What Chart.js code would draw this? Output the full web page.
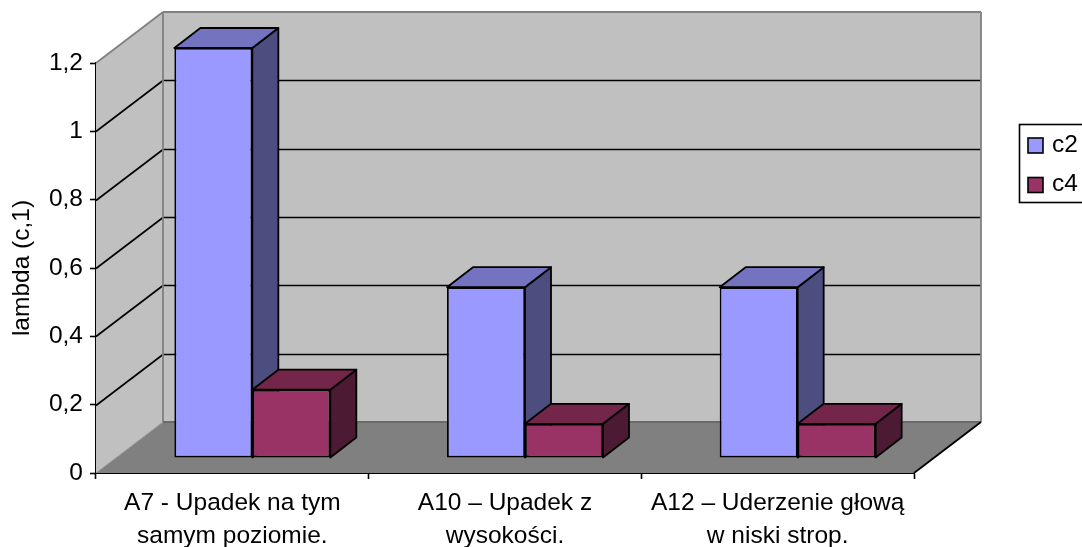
<!DOCTYPE html>
<html>
<head>
<meta charset="utf-8">
<style>html,body{margin:0;padding:0;background:#fff;overflow:hidden}canvas{display:block}</style>
<script src="https://cdn.jsdelivr.net/npm/chart.js@4/dist/chart.umd.min.js"></script>
</head>
<body>
<canvas id="c" width="1082" height="547"></canvas>
<script>
const categories = [
  ['A7 - Upadek na tym', 'samym poziomie.'],
  ['A10 – Upadek z', 'wysokości.'],
  ['A12 – Uderzenie głową', 'w niski strop.']
];
const c2Values = [1.2, 0.5, 0.5];
const c4Values = [0.2, 0.1, 0.1];
const seriesNames = ['c2', 'c4'];
const yTitle = 'lambda (c,1)';

const FONT = '"Liberation Sans", Arial, sans-serif';
const FS = 24.5;
const WALL = {dx: 67, dy: -51};
const SHIFT = {dx: 20, dy: -15};
const DEPTH = {dx: 26, dy: -20};
const EDGE = 1.8;
const faces = [
  {side: '#4D4D80', top: '#7373BF'},
  {side: '#4D1A33', top: '#732649'}
];

function poly(ctx, pts, fill, stroke, lw) {
  ctx.beginPath();
  pts.forEach((p, i) => i ? ctx.lineTo(p[0], p[1]) : ctx.moveTo(p[0], p[1]));
  ctx.closePath();
  if (fill) { ctx.fillStyle = fill; ctx.fill(); }
  if (stroke) { ctx.strokeStyle = stroke; ctx.lineWidth = lw; ctx.lineJoin = 'round'; ctx.stroke(); }
}
function line(ctx, x1, y1, x2, y2, color, lw) {
  ctx.beginPath(); ctx.moveTo(x1, y1); ctx.lineTo(x2, y2);
  ctx.strokeStyle = color; ctx.lineWidth = lw; ctx.stroke();
}

const box3d = {
  id: 'box3d',
  beforeLayout(chart) {
    const lg = chart.legend;
    if (lg && !lg._wrapped) {
      const fit = lg.fit;
      lg.fit = function () { fit.call(this); this.width = 168; };
      lg._wrapped = true;
    }
  },
  afterLayout(chart) {
    const lg = chart.legend;
    lg.left = 1012.5; lg.right = 1095; lg.top = 118.5; lg.bottom = 215;
  },
  beforeDraw(chart) {
    const ctx = chart.ctx;
    ctx.save();
    ctx.strokeStyle = '#000'; ctx.lineWidth = 1.6;
    ctx.strokeRect(1019.5, 124.5, 70, 78);
    chart.data.datasets.forEach((ds, i) => {
      ctx.fillStyle = ds.backgroundColor;
      ctx.fillRect(1028, 138 + 39.5 * i, 15, 15);
      ctx.strokeRect(1028, 138 + 39.5 * i, 15, 15);
    });
    ctx.restore();
  },
  beforeDatasetsDraw(chart) {
    const ctx = chart.ctx, a = chart.chartArea, y = chart.scales.y;
    const d = WALL, L = a.left, R = a.right, T = a.top, B = a.bottom;
    ctx.save();
    poly(ctx, [[L + d.dx, T + d.dy], [R + d.dx, T + d.dy], [R + d.dx, B + d.dy], [L + d.dx, B + d.dy]], '#C0C0C0');
    poly(ctx, [[L, T], [L + d.dx, T + d.dy], [L + d.dx, B + d.dy], [L, B]], '#C0C0C0');
    poly(ctx, [[L, B], [R, B], [R + d.dx, B + d.dy], [L + d.dx, B + d.dy]], '#808080');
    y.ticks.forEach((t, i) => {
      if (i === 0 || i === y.ticks.length - 1) return;
      const p = Math.round(y.getPixelForValue(t.value)) + 0.5;
      line(ctx, L, p, L + d.dx, p + d.dy, '#000', 1.6);
      line(ctx, L + d.dx, p + d.dy, R + d.dx, p + d.dy, '#000', 1.6);
    });
    const GR = '#808080';
    line(ctx, L, T, L + d.dx, T + d.dy, GR, 1.8);
    line(ctx, L + d.dx, T + d.dy, R + d.dx, T + d.dy, GR, 1.8);
    line(ctx, L + d.dx, T + d.dy, L + d.dx, B + d.dy, GR, 1.8);
    line(ctx, R + d.dx, T + d.dy, R + d.dx, B + d.dy, GR, 1.8);
    line(ctx, L + d.dx, B + d.dy, R + d.dx, B + d.dy, '#6a6a6a', 1.8);
    line(ctx, L, B, L + d.dx, B + d.dy, '#999', 1);
    line(ctx, R, B, R + d.dx, B + d.dy, '#000', 1.8);
    ctx.restore();

    // series are painted first to last so that each later bar sits over the earlier bar's side face
    chart.data.datasets.forEach((ds, i) => {
      const meta = chart.getDatasetMeta(i), f = faces[i], dp = DEPTH;
      ctx.save();
      ctx.translate(SHIFT.dx, SHIFT.dy);
      meta.data.forEach(b => {
        const l = b.x - b.width / 2, r = b.x + b.width / 2, t = b.y, bt = b.base;
        poly(ctx, [[r, t], [r + dp.dx, t + dp.dy], [r + dp.dx, bt + dp.dy], [r, bt]], f.side, '#000', EDGE);
        poly(ctx, [[l, t], [r, t], [r + dp.dx, t + dp.dy], [l + dp.dx, t + dp.dy]], f.top, '#000', EDGE);
      });
      meta.controller.draw();
      ctx.restore();
    });
    return false;
  }
};

new Chart(document.getElementById('c'), {
  type: 'bar',
  data: {
    labels: categories,
    datasets: [
      {label: seriesNames[0], data: c2Values, backgroundColor: '#9999FF', borderColor: '#000', borderWidth: EDGE, borderSkipped: false},
      {label: seriesNames[1], data: c4Values, backgroundColor: '#993366', borderColor: '#000', borderWidth: EDGE, borderSkipped: false}
    ]
  },
  options: {
    responsive: false,
    animation: false,
    devicePixelRatio: 1,
    layout: {padding: {top: 63, left: 0, right: 0, bottom: 0}},
    datasets: {bar: {barPercentage: 1, categoryPercentage: 0.572}},
    plugins: {
      tooltip: {enabled: false},
      legend: {
        position: 'right',
        align: 'start',
        labels: {
          boxWidth: 12.75, boxHeight: 16, padding: 14.5, color: '#000',
          font: {family: FONT, size: FS},
          generateLabels: chart => chart.data.datasets.map((ds, i) => ({
            text: ds.label, fillStyle: 'rgba(0,0,0,0)', strokeStyle: 'rgba(0,0,0,0)', lineWidth: 0, datasetIndex: i, fontColor: '#000'
          }))
        }
      }
    },
    scales: {
      x: {
        afterFit: s => { s.height = 74; s.paddingLeft = 0; s.paddingRight = 0; },
        border: {color: '#000', width: 2},
        grid: {drawOnChartArea: false, drawTicks: true, tickLength: 6, color: '#000', tickColor: '#000', tickWidth: 1.6, offset: true},
        ticks: {color: '#000', maxRotation: 0, autoSkip: false, padding: 8, font: {family: FONT, size: FS, lineHeight: 1.347}}
      },
      y: {
        min: 0, max: 1.2,
        afterFit: s => { s.width = 96; s.paddingTop = 0; s.paddingBottom = 0; },
        border: {color: '#000', width: 1.6},
        grid: {drawOnChartArea: false, drawTicks: true, tickLength: 6, tickColor: '#000', tickWidth: 1.6},
        title: {display: true, text: yTitle, color: '#000', font: {family: FONT, size: FS}, padding: {top: 8, bottom: 0}},
        ticks: {
          stepSize: 0.2, color: '#000', padding: 7,
          font: {family: FONT, size: FS},
          callback: v => String(Math.round(v * 10) / 10).replace('.', ',')
        }
      }
    }
  },
  plugins: [box3d]
});
</script>
</body>
</html>
